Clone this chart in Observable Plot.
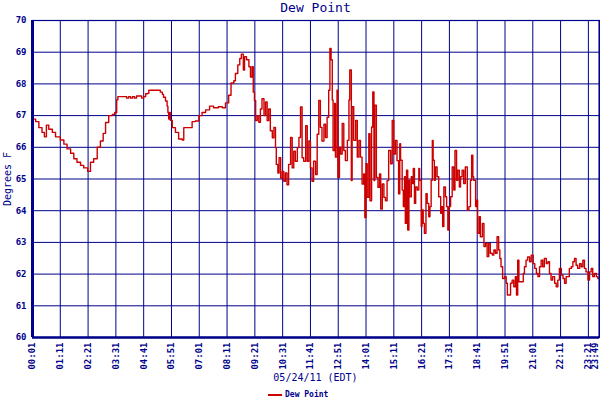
<!DOCTYPE html>
<html><head><meta charset="utf-8">
<script src="https://cdn.jsdelivr.net/npm/d3@7"></script>
<script src="https://cdn.jsdelivr.net/npm/@observablehq/plot@0.6"></script>
<style>
body{margin:0;background:#fff;width:600px;height:400px;position:relative;overflow:hidden;font-family:"DejaVu Sans Mono",monospace;color:#00008b;}
#title{position:absolute;left:32px;width:567px;top:0;height:16px;line-height:16px;text-align:center;font-size:13px;}
#chart{position:absolute;left:0;top:14px;}
#ylabel{position:absolute;left:7px;top:179px;transform:translate(-50%,-50%) rotate(-90deg);white-space:nowrap;font-size:10px;}
#xlabel{position:absolute;left:32px;width:567px;top:371px;height:14px;line-height:14px;text-align:center;font-size:10px;}
#legend{position:absolute;left:268px;top:389px;height:12px;line-height:12px;font-size:8px;font-weight:bold;display:flex;align-items:center;gap:3px;}
</style></head>
<body>
<div id="title"></div>
<div id="chart"></div>
<div id="ylabel"></div>
<div id="xlabel"></div>
<div id="legend"><svg width="14" height="6"><line x1="0" x2="14" y1="3" y2="3" stroke="#cc0000" stroke-width="2"/></svg><span id="legtext"></span></div>
<script>
const chartTitle = "Dew Point";
const yAxisLabel = "Degrees F";
const xAxisLabel = "05/24/11 (EDT)";
const seriesName = "Dew Point";
const xTickLabels = ["00:01","01:11","02:21","03:31","04:41","05:51","07:01","08:11","09:21","10:31","11:41","12:51","14:01","15:11","16:21","17:31","18:41","19:51","21:01","22:11","23:21","23:49"];
const yTicks = [60,61,62,63,64,65,66,67,68,69,70];
// minutes after midnight
const minutes = [1,9,17,25,31,34,36,42,51,59,71,80,88,97,105,113,122,130,140,145,147,155,164,172,179,185,193,202,208,213,216,223,233,238,243,248,253,258,263,270,276,281,286,291,294,303,313,319,323,328,331,336,340,342,344,346,348,353,361,369,378,380,382,397,403,411,420,428,437,447,
457,469,479,487,495,501,508,512,518,523,527,532,535,540,546,550,554,557,560,563,567,571,575,579,584,588,592,596,600,605,609,613,615,619,622,626,630,634,638,642,646,651,655,659,663,668,672,676,680,684,689,693,697,701,705,709,714,718,722,726,730,735,739,743,747,750,
753,756,758,762,764,768,770,774,777,781,785,789,794,798,800,804,806,810,815,819,823,827,831,835,838,841,844,848,851,855,858,861,863,867,871,875,878,882,886,890,894,898,903,907,911,915,919,923,926,
928,932,935,938,940,943,946,949,951,955,957,960,963,966,970,974,976,980,982,985,988,992,995,999,1002,1005,1008,1010,1013,1016,1020,1024,1029,1031,1034,1037,1041,1044,1047,1050,1054,1058,1062,1065,1069,1072,1076,1079,1083,1087,1091,1096,1100,1104,1107,1110,1112,1117,1119,1122,1126,1129,1134,1138,1142,1146,1150,1154,1159,1163,1167,1171,1175,
1178,1181,1185,1190,1194,1197,1201,1205,1209,1213,1217,1220,1223,1226,1234,1237,1240,1244,1248,1253,1257,1262,1266,1270,1274,1278,1282,1286,1290,1295,1299,1303,1307,1311,1316,1320,1324,1328,1333,1337,1341,1345,1349,1353,1358,1362,1366,1370,1374,1379,1383,1387,1391,1395,1400,1404,1408,1412,1416,1421,1425,1429];
const dewPoint = [66.89,66.81,66.62,66.47,66.33,66.33,66.7,66.57,66.47,66.33,66.23,66.1,65.95,65.81,65.64,65.53,65.43,65.35,65.24,65.24,65.53,65.64,66.0,66.2,66.44,66.78,67.0,67.04,67.1,67.5,67.6,67.6,67.6,67.55,67.6,67.55,67.6,67.55,67.62,67.62,67.55,67.6,67.69,67.7,67.8,67.8,67.8,67.8,67.74,67.67,67.58,67.46,67.3,67.1,66.89,67.1,66.85,66.62,66.47,66.26,66.23,66.23,66.62,66.62,66.81,66.83,67.0,67.1,67.18,67.3,
67.25,67.28,67.25,67.4,67.64,68.03,68.1,68.33,68.6,68.8,68.94,68.44,68.86,68.76,68.54,68.22,68.54,67.74,67.48,66.84,67.0,66.79,67.21,67.53,67.0,67.43,66.84,67.21,66.52,66.3,66.63,65.99,65.46,65.19,65.67,65.03,65.24,64.93,65.19,64.82,65.46,66.31,65.35,65.88,65.56,65.99,66.31,67.27,65.67,65.56,66.68,65.56,66.2,65.35,64.93,65.56,65.14,66.41,67.48,66.63,66.2,66.73,66.31,66.95,67.8,69.12,
68.76,67.49,65.9,67.38,65.69,67.8,65.05,66.0,65.79,66.75,65.9,65.58,66.22,67.49,68.44,64.95,67.28,66.22,66.85,65.69,66.22,65.69,64.84,65.16,63.78,65.48,64.42,66.43,64.31,66.64,67.75,64.95,67.33,65.05,64.74,65.16,64.05,64.84,64.42,64.31,64.95,65.9,65.48,66.85,65.79,66.22,65.58,64.53,66.11,
65.59,64.65,64.13,65.07,63.6,65.28,63.39,64.96,64.44,65.07,64.86,65.33,64.23,64.75,64.65,65.33,64.96,63.5,64.02,63.6,63.29,64.54,64.23,63.81,64.13,64.96,66.22,65.59,64.96,65.38,65.07,64.44,63.92,64.13,63.5,64.75,64.44,64.13,63.39,64.13,64.44,65.38,64.65,65.9,64.96,65.28,64.75,65.07,65.28,64.86,65.38,64.02,64.13,64.96,65.75,65.07,64.96,64.13,64.33,63.29,63.81,63.18,63.6,62.87,62.97,62.55,62.97,62.66,62.6,62.76,62.66,63.18,62.76,
62.49,62.23,61.86,61.92,61.71,61.34,61.34,61.71,61.81,61.6,61.92,61.34,62.44,61.76,61.76,62.02,62.23,62.44,62.54,62.39,62.6,62.33,62.18,62.02,61.92,62.23,62.44,62.23,62.49,62.33,62.39,62.02,61.81,61.92,61.71,61.6,61.81,62.18,61.97,61.86,61.71,61.92,61.92,62.18,62.23,62.39,62.49,62.28,62.18,62.33,62.23,62.44,62.18,62.07,61.81,62.07,62.18,61.92,62.02,61.92,61.86,61.86];

const navy = "#00008b";
const lineColor = "#cc0000";
const data = minutes.map((m, i) => ({m, v: dewPoint[i]}));
const tickMinutes = xTickLabels.map(s => { const [h, mm] = s.split(":").map(Number); return h * 60 + mm; });
const xMin = tickMinutes[0], xMax = tickMinutes[tickMinutes.length - 1];
const fmt = d => xTickLabels[tickMinutes.indexOf(d)];

document.getElementById("title").textContent = chartTitle;
document.getElementById("ylabel").textContent = yAxisLabel;
document.getElementById("xlabel").textContent = xAxisLabel;
document.getElementById("legtext").textContent = seriesName;

const chart = Plot.plot({
  width: 600, height: 359,
  marginTop: 6, marginBottom: 36, marginLeft: 32, marginRight: 1,
  style: {fontFamily: '"DejaVu Sans Mono", monospace', fontSize: "9px", fontWeight: "bold", color: navy, background: "#fff", overflow: "visible"},
  x: {domain: [xMin, xMax]},
  y: {domain: [yTicks[0], yTicks[yTicks.length - 1]]},
  marks: [
    Plot.gridX(tickMinutes, {stroke: navy, strokeOpacity: 1, strokeWidth: 1}),
    Plot.gridY(yTicks, {stroke: navy, strokeOpacity: 1, strokeWidth: 1}),
    Plot.line(data, {x: "m", y: "v", stroke: lineColor, strokeWidth: 1.4, curve: "step-after"}),
    Plot.frame({stroke: navy, strokeWidth: 1.2}),
    Plot.ruleX([xMin], {stroke: navy, strokeWidth: 3}),
    Plot.ruleX([xMax], {stroke: navy, strokeWidth: 2}),
    Plot.ruleY([yTicks[0]], {stroke: navy, strokeWidth: 2.5}),
    Plot.axisX(tickMinutes.slice(0, -1), {tickFormat: fmt, tickRotate: -90, tickSize: 0, tickPadding: 5, label: null, fill: navy}),
    Plot.axisX([xMax], {tickFormat: fmt, tickRotate: -90, tickSize: 0, tickPadding: 5, label: null, fill: navy, dx: -4}),
    Plot.axisY(yTicks, {tickSize: 0, tickPadding: 6, label: null, fill: navy})
  ]
});
document.getElementById("chart").appendChild(chart);
</script>
</body></html>
